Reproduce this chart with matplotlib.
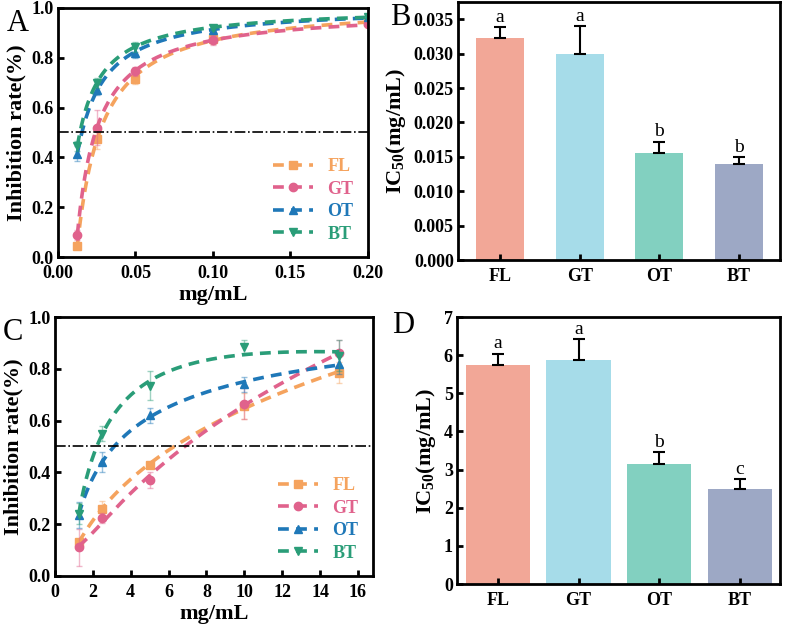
import numpy as np
import matplotlib
matplotlib.use("Agg")
import matplotlib.pyplot as plt
from matplotlib.ticker import FormatStrFormatter

plt.rcParams["font.family"] = ["Liberation Serif", "DejaVu Serif"]
plt.rcParams["font.weight"] = "bold"
plt.rcParams["mathtext.fontset"] = "custom"
plt.rcParams["mathtext.rm"] = "Liberation Serif:bold"
plt.rcParams["mathtext.default"] = "rm"

samples = ["FL", "GT", "OT", "BT"]
line_colors = ["#F5A35E", "#E0628C", "#1F78B8", "#2A9D78"]
bar_colors = ["#F2A797", "#A6DCE9", "#82D0C0", "#9DA8C5"]
markers = ["s", "o", "^", "v"]

# panel A: inhibition vs concentration (low range)
conc_a = [0.0125, 0.025, 0.05, 0.1, 0.2]
rate_a = {
    "FL": [0.045, 0.475, 0.715, 0.875, 0.945],
    "GT": [0.09, 0.52, 0.745, 0.87, 0.935],
    "OT": [0.415, 0.67, 0.82, 0.91, 0.965],
    "BT": [0.445, 0.70, 0.845, 0.92, 0.965],
}
err_a = {
    "FL": [0.01, 0.04, 0.02, 0.02, 0.01],
    "GT": [0.02, 0.07, 0.02, 0.02, 0.01],
    "OT": [0.03, 0.02, 0.02, 0.01, 0.01],
    "BT": [0.02, 0.02, 0.02, 0.01, 0.01],
}

# panel B: IC50
ic50_b = [0.0323, 0.0300, 0.0156, 0.0140]
ic50_b_err = [0.0015, 0.0040, 0.0016, 0.0010]
letters_b = ["a", "a", "b", "b"]

# panel C: inhibition vs concentration (high range)
conc_c = [1.25, 2.5, 5, 10, 15]
rate_c = {
    "FL": [0.13, 0.26, 0.43, 0.655, 0.785],
    "GT": [0.11, 0.225, 0.37, 0.665, 0.86],
    "OT": [0.235, 0.44, 0.62, 0.74, 0.82],
    "BT": [0.24, 0.55, 0.735, 0.885, 0.85],
}
err_c = {
    "FL": [0.01, 0.03, 0.01, 0.05, 0.04],
    "GT": [0.07, 0.02, 0.03, 0.06, 0.05],
    "OT": [0.05, 0.04, 0.03, 0.03, 0.04],
    "BT": [0.04, 0.03, 0.055, 0.025, 0.06],
}

# panel D: IC50
ic50_d = [5.73, 5.88, 3.14, 2.49]
ic50_d_err = [0.31, 0.54, 0.31, 0.26]
letters_d = ["a", "a", "b", "c"]

fig = plt.figure(figsize=(7.89, 6.29), dpi=100)
axA = fig.add_axes([0.0735, 0.5914, 0.3929, 0.3959])
axB = fig.add_axes([0.5805, 0.5866, 0.4081, 0.4102])
axC = fig.add_axes([0.0697, 0.0843, 0.4031, 0.4117])
axD = fig.add_axes([0.5792, 0.0715, 0.4094, 0.4245])


def style(ax):
    for s in ax.spines.values():
        s.set_linewidth(2)
    ax.tick_params(direction="in", width=2, length=4, labelsize=13, pad=3)
    ax.tick_params(axis="x", pad=6)
    for lab in ax.get_xticklabels() + ax.get_yticklabels():
        lab.set_fontweight("bold")


def rate_panel(ax, conc, rate, err, fit):
    for i, name in enumerate(samples):
        c = line_colors[i]
        ax.errorbar(conc, rate[name], yerr=err[name], fmt="none", ecolor=c,
                    alpha=0.45, elinewidth=1, capsize=2)
        xs = np.linspace(conc[0], conc[-1], 200)
        ax.plot(xs, fit(np.array(conc), np.array(rate[name]), xs), color=c,
                lw=2.6, dashes=(3, 2))
        ax.plot(conc, rate[name], ls="none", marker=markers[i], color=c, ms=6)
        ax.plot([], [], color=c, lw=2.6, dashes=(3, 2), marker=markers[i],
                ms=6, label=name)
    ax.axhline(0.5, color="black", lw=1.2, ls="-.")
    ax.set_ylim(0, 1.0)
    ax.set_yticks(np.arange(0, 1.01, 0.2))
    ax.yaxis.set_major_formatter(FormatStrFormatter("%.1f"))
    ax.set_ylabel("Inhibition rate(%)", fontsize=16, fontweight="bold", labelpad=4)
    ax.set_xlabel("mg/mL", fontsize=16, fontweight="bold", labelpad=2)
    leg = ax.legend(loc="lower right", frameon=False, fontsize=13,
                    handlelength=2.2, labelspacing=0.3, borderaxespad=0.4,
                    labelcolor="linecolor")
    for t in leg.get_texts():
        t.set_fontweight("bold")


def fit_inv(x, y, xs):
    p = np.polyfit(1.0 / x, y, 2)
    return np.polyval(p, 1.0 / xs)


def fit_log(x, y, xs):
    p = np.polyfit(np.log(x), y, 2)
    return np.polyval(p, np.log(xs))


def bar_panel(ax, vals, errs, letters, width, ylim, ystep, fmt):
    pos = np.arange(len(samples))
    ax.bar(pos, vals, width=width, color=bar_colors)
    ax.errorbar(pos, vals, yerr=[np.zeros(len(vals)), errs], fmt="none",
                ecolor="black", elinewidth=1.5, capsize=4, capthick=1.5)
    for p, v, e, l in zip(pos, vals, errs, letters):
        ax.text(p, v + e + ylim * 0.005, l, ha="center", va="bottom",
                fontsize=14, fontweight="normal")
    ax.set_xticks(pos)
    ax.set_xticklabels(samples)
    ax.set_ylim(0, ylim)
    ax.set_yticks(np.arange(0, ylim + 1e-9, ystep))
    ax.yaxis.set_major_formatter(FormatStrFormatter(fmt))
    ax.set_ylabel(r"IC$_{50}$(mg/mL)", fontsize=16, fontweight="bold", labelpad=4)


rate_panel(axA, conc_a, rate_a, err_a, fit_inv)
axA.set_xlim(0, 0.2)
axA.set_xticks(np.arange(0, 0.201, 0.05))
axA.xaxis.set_major_formatter(FormatStrFormatter("%.2f"))

rate_panel(axC, conc_c, rate_c, err_c, fit_log)
axC.set_xlim(0, 16.8)
axC.set_xticks(np.arange(0, 17, 2))

bar_panel(axB, ic50_b, ic50_b_err, letters_b, 0.6, 0.0375, 0.005, "%.3f")
axB.set_xlim(-0.53, 3.52)
bar_panel(axD, ic50_d, ic50_d_err, letters_d, 0.8, 7, 1, "%d")
axD.set_xlim(-0.51, 3.5)

for ax in (axA, axB, axC, axD):
    style(ax)

for lab, x, y in [("A", 0.008, 0.962), ("B", 0.495, 0.972), ("C", 0.003, 0.472),
                  ("D", 0.497, 0.482)]:
    fig.text(x, y, lab, fontsize=22, fontweight="normal", va="center")

fig.savefig("out.png", dpi=100)
